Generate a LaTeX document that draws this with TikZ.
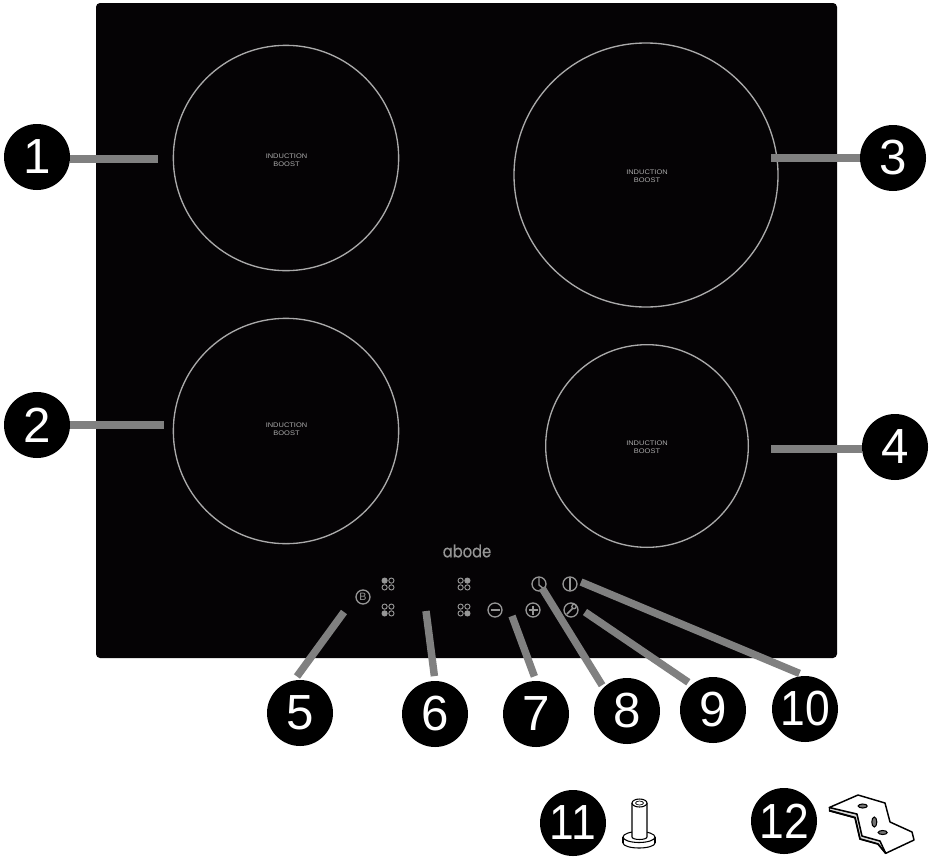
\documentclass[tikz,border=0pt]{standalone}
\usepackage{fontspec}
\setmainfont{Liberation Sans}
\newfontfamily\logofont[FakeStretch=0.85,FakeBold=0.4]{Poppins}
\newfontfamily\widefont[FakeStretch=1.12]{Liberation Sans}
\newfontfamily\narrowfont[FakeStretch=0.9]{Liberation Sans}
\definecolor{panelc}{RGB}{5,3,5}
\definecolor{ringc}{RGB}{170,170,170}
\definecolor{iconc}{RGB}{150,150,150}
\definecolor{leaderc}{RGB}{128,128,128}
\tikzset{
  px/.style={x=0.75pt,y=-0.75pt},
  badge/.style={circle,fill=black,text=white,minimum size=49.5pt,inner sep=0pt,font=\fontsize{37}{37}\selectfont},
  badgeb/.style={badge,font=\narrowfont\fontsize{37}{37}\selectfont},
  leader/.style={draw=leaderc,line width=5.6pt},
  burner/.style={circle,draw=ringc,line width=1pt,inner sep=0pt},
  burnerlabel/.style={text=ringc,align=center,font=\widefont\fontsize{5}{6}\selectfont},
  icon/.style={circle,draw=iconc,line width=1pt,minimum size=10.5pt,inner sep=0pt,text=iconc},
  dot/.style={circle,draw=iconc,line width=0.7pt,minimum size=3.9pt,inner sep=0pt},
  dotfull/.style={dot,fill=iconc},
  glyph/.style={draw=iconc,line width=1pt},
  part/.style={draw=black,line width=0.8pt,fill=white},
}
\begin{document}
\begin{tikzpicture}[px]
\useasboundingbox (0,0) rectangle (931,857);
\fill[white] (0,0) rectangle (931,857);
\fill[panelc,rounded corners=3pt] (96,3) rectangle (837,658);
% burners
\node[burner,minimum size=169pt] (b1) at (286,158) {};
\node[burner,minimum size=169pt] (b2) at (286,431) {};
\node[burner,minimum size=198pt] (b3) at (646,175) {};
\node[burner,minimum size=152pt] (b4) at (647,446) {};
\node[burnerlabel] (t1) at (286.5,160.5) {INDUCTION\\BOOST};
\node[burnerlabel] (t2) at (286.5,429) {INDUCTION\\BOOST};
\node[burnerlabel] (t3) at (647,176) {INDUCTION\\BOOST};
\node[burnerlabel] (t4) at (647,447) {INDUCTION\\BOOST};
% logo
\node[text=iconc,inner sep=0pt,font=\logofont\fontsize{13}{13}\selectfont] (logo) at (467,551) {abode};
% controls
\node[icon,font=\fontsize{8}{8}\selectfont] (boost) at (363,597) {B};
\node[icon] (minus) at (495,610) {};
\node[icon] (plus) at (533,610) {};
\node[icon] (clock) at (539,584) {};
\node[icon] (power) at (570,584) {};
\node[icon] (wrench) at (571,610) {};
\draw[glyph] (490.5,610) -- (499.5,610);
\draw[glyph] (528.5,610) -- (537.5,610) (533,605.5) -- (533,614.5);
\draw[glyph] (539,578) -- (539,585) -- (544,589);
\draw[glyph] (570,578) -- (570,590);
\draw[glyph,line width=1.3pt] (567,614) -- (573,608);
\draw[glyph,fill=panelc] (574,606.5) circle (2.2);
% selector dots
\foreach \n/\x/\y/\fx/\fy in {q1/388/584/-1/-1,q2/388/610/-1/1,q3/464/584/1/-1,q4/464/610/1/1}{
  \foreach \sx in {-1,1}{\foreach \sy in {-1,1}{
    \pgfmathparse{(\sx==\fx && \sy==\fy) ? "dotfull" : "dot"}
    \edef\sty{\pgfmathresult}
    \node[style=\sty] at (\x+\sx*3.4,\y+\sy*3.4) {};
  }}
}
% free ends
\coordinate (e1) at (158,159);
\coordinate (e2) at (164,425);
\coordinate (e3) at (771,158);
\coordinate (e4) at (771,449);
\coordinate (e5) at (344,612);
\coordinate (e6) at (426,611);
\coordinate (e7) at (512,616);
\coordinate (e8) at (542,588);
\coordinate (e9) at (585,612);
\coordinate (e10) at (581,582);
% badges
\node[badge] (n1) at (37,157) {1};
\node[badge] (n2) at (37,425) {2};
\node[badge] (n3) at (893,158) {3};
\node[badge] (n4) at (895,447) {4};
\node[badge] (n5) at (300,713) {5};
\node[badge] (n6) at (435,714) {6};
\node[badge] (n7) at (536,714) {7};
\node[badge] (n8) at (627,711) {8};
\node[badge] (n9) at (713,710) {9};
\node[badgeb] (n10) at (805,709) {10};
\node[badgeb] (n11) at (573,823) {11};
\node[badgeb] (n12) at (784,821) {12};
% leaders
\draw[leader] (n1.east |- e1) -- (e1);
\draw[leader] (n2.east |- e2) -- (e2);
\draw[leader] (n3.west |- e3) -- (e3);
\draw[leader] (n4.west |- e4) -- (e4);
\draw[leader,shorten <=3.5pt] (n5.100) -- (e5);
\draw[leader,shorten <=3.5pt] (n6.north) -- (e6);
\draw[leader,shorten <=3.5pt] (n7.north) -- (e7);
\draw[leader,shorten <=2pt] (n8.135) -- (e8);
\draw[leader,shorten <=3pt] (n9.130) -- (e9);
\draw[leader,shorten <=4.5pt] (n10.north) -- (e10);
% peg
\draw[part] (639,843) ellipse[x radius=16,y radius=5];
\fill[white] (623,837) rectangle (655,843);
\draw[draw=black,line width=0.8pt] (623,837) -- (623,843) (655,837) -- (655,843);
\draw[part] (639,837) ellipse[x radius=16,y radius=5.5];
\draw[part] (632,803) -- (632,837) arc[x radius=7.5,y radius=2.5,start angle=180,end angle=0] -- (647,803);
\draw[part] (639.5,803) ellipse[x radius=7.5,y radius=4];
\draw[draw=black,line width=0.5pt] (639.5,803) ellipse[x radius=4,y radius=2];
% bracket
\draw[draw=black,fill=black!15,line width=0.8pt,line join=round]
  (829.3,807.5) -- (829.3,811) -- (855,818) -- (860,839) -- (878,844) -- (885.7,853.3) -- (886,850) -- (880,841) -- (862,836) -- (857,814) -- cycle;
\draw[part,line width=1.1pt,line join=round]
  (829.3,807.5) -- (858,795) -- (885,803) -- (890,822) -- (912,832) -- (914,840) -- (885.7,853.3) -- (880,841) -- (862,836) -- (857,814) -- cycle;
\draw[draw=black,line width=1.3pt,line join=round] (829.3,810.5) -- (855,817.5) -- (860,839) -- (878,844) -- (885.7,853.3);
\draw[draw=black,fill=black!55,line width=0.8pt] (862.7,806) ellipse[x radius=4.5,y radius=2];
\draw[draw=black,fill=black!55,line width=0.8pt] (874.3,822) ellipse[x radius=2.5,y radius=5];
\draw[draw=black,fill=black!55,line width=0.8pt] (882.7,832.5) ellipse[x radius=4.5,y radius=2];
\end{tikzpicture}
\end{document}
